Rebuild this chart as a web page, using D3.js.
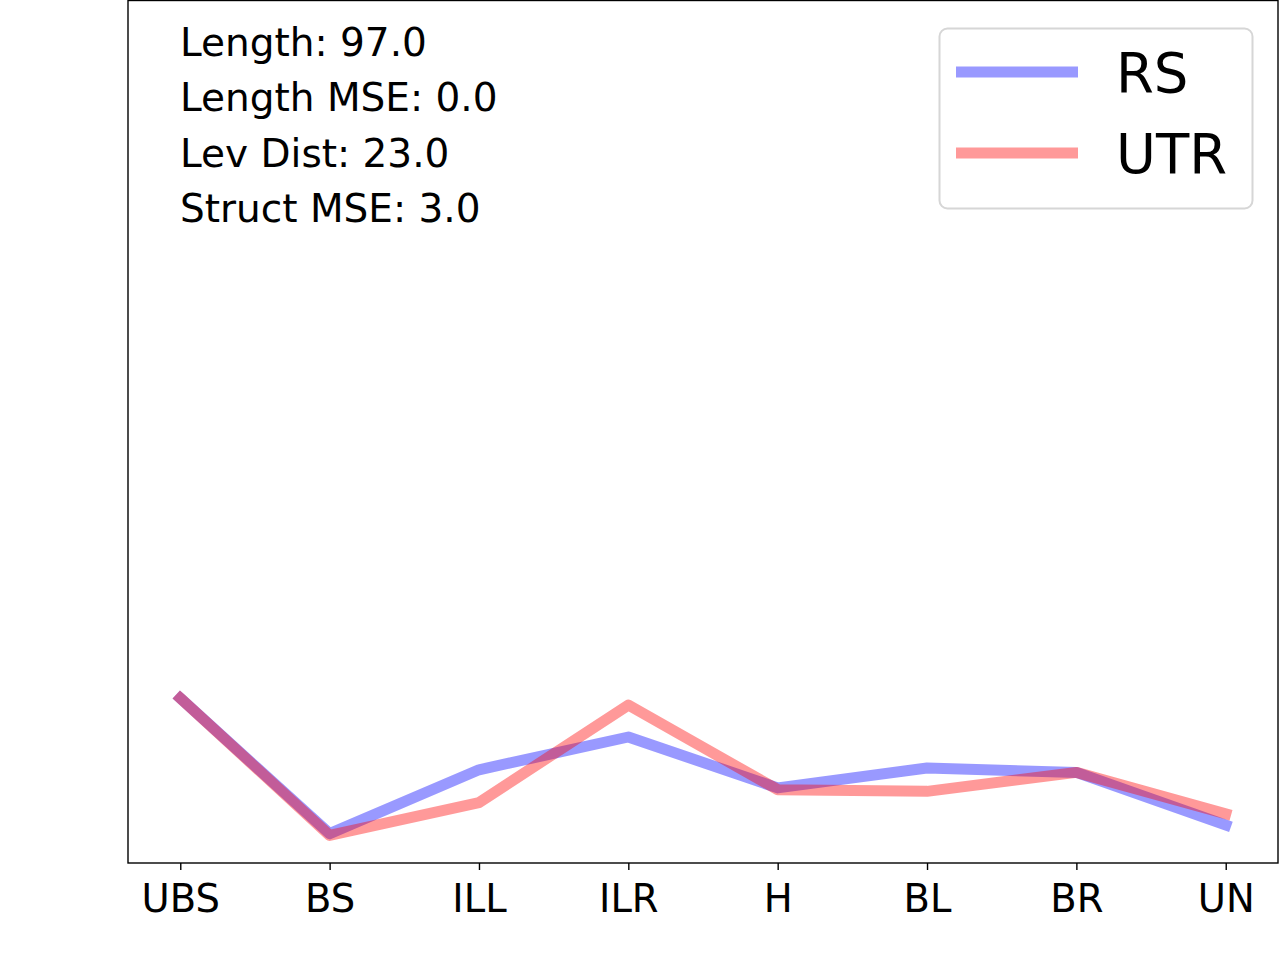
<!DOCTYPE html>
<html>
<head>
<meta charset="utf-8">
<script src="https://cdn.jsdelivr.net/npm/d3@7"></script>
<style>
  body { margin: 0; background: #fff; }
  svg { font-family: "DejaVu Sans", sans-serif; }
</style>
</head>
<body>
<svg width="1280" height="960"></svg>
<script>
'use strict'

const CATEGORIES = ['UBS', 'BS', 'ILL', 'ILR', 'H', 'BL', 'BR', 'UN'];
const RS_VALUES = [19.1, 3.4, 10.8, 14.6, 8.7, 11.0, 10.5, 4.4];
const UTR_VALUES = [19.1, 3.2, 7.0, 18.3, 8.5, 8.3, 10.5, 5.7];
const STATS = ['Length: 97.0', 'Length MSE: 0.0', 'Lev Dist: 23.0', 'Struct MSE: 3.0'];
const SERIES = [
  { name: 'RS', values: RS_VALUES, color: '#0000ff' },
  { name: 'UTR', values: UTR_VALUES, color: '#ff0000' }
];

const LEFT = 128, RIGHT = 1278, TOP = 0, BOTTOM = 863;

const svg = d3.select('svg');

const x = d3.scaleLinear()
  .domain([-0.35, CATEGORIES.length - 1 + 0.35])
  .range([LEFT, RIGHT]);
const y = d3.scaleLinear()
  .domain([0, 100])
  .range([BOTTOM, TOP]);

// lines
const line = d3.line()
  .x((d, i) => x(i))
  .y(d => y(d));

svg.selectAll('path.series')
  .data(SERIES)
  .join('path')
  .attr('class', 'series')
  .attr('d', d => line(d.values))
  .attr('fill', 'none')
  .attr('stroke', d => d.color)
  .attr('stroke-opacity', 0.4)
  .attr('stroke-width', 11)
  .attr('stroke-linecap', 'square')
  .attr('stroke-linejoin', 'round');

// frame
svg.append('rect')
  .attr('x', LEFT)
  .attr('y', TOP + 0.5)
  .attr('width', RIGHT - LEFT)
  .attr('height', BOTTOM - TOP - 0.5)
  .attr('fill', 'none')
  .attr('stroke', '#000')
  .attr('stroke-width', 1.4);

// x axis
const xAxis = d3.axisBottom(x)
  .tickValues(d3.range(CATEGORIES.length))
  .tickFormat(i => CATEGORIES[i])
  .tickSize(7)
  .tickPadding(15);

const gx = svg.append('g')
  .attr('transform', `translate(0,${BOTTOM})`)
  .call(xAxis);
gx.select('.domain').remove();
gx.selectAll('.tick line').attr('stroke', '#000').attr('stroke-width', 1.4);
gx.selectAll('.tick text')
  .attr('fill', '#000')
  .attr('font-size', 38.5)
  .attr('font-family', '"DejaVu Sans", sans-serif');

// stats text
svg.append('g')
  .selectAll('text')
  .data(STATS)
  .join('text')
  .attr('x', 180)
  .attr('y', (d, i) => 56 + i * 55.3)
  .attr('font-size', 39)
  .attr('fill', '#000')
  .text(d => d);

// legend
const legend = svg.append('g');
legend.append('rect')
  .attr('x', 939.5)
  .attr('y', 28.5)
  .attr('width', 313)
  .attr('height', 180)
  .attr('rx', 8)
  .attr('fill', '#fff')
  .attr('fill-opacity', 0.8)
  .attr('stroke', '#d6d6d6')
  .attr('stroke-width', 2);

const items = legend.selectAll('g.item')
  .data(SERIES)
  .join('g')
  .attr('class', 'item')
  .attr('transform', (d, i) => `translate(0,${72 + i * 81})`);

items.append('line')
  .attr('x1', 956)
  .attr('x2', 1078)
  .attr('stroke', d => d.color)
  .attr('stroke-opacity', 0.4)
  .attr('stroke-width', 11);

items.append('text')
  .attr('x', 1116)
  .attr('y', 20)
  .attr('font-size', 54.5)
  .attr('fill', '#000')
  .text(d => d.name);
</script>
</body>
</html>
